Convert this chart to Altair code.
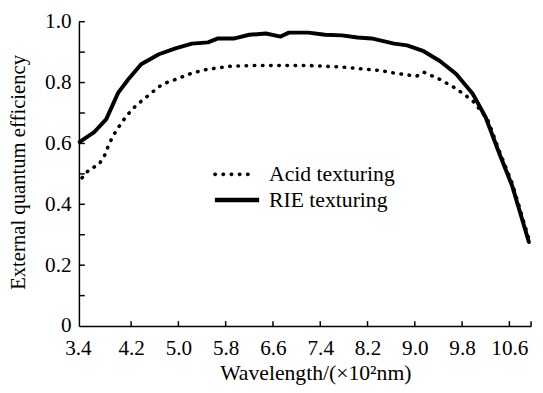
import altair as alt
import pandas as pd

# ---- data ----
wl_rie = [3.33, 3.57, 3.78, 3.98, 4.15, 4.37, 4.67, 4.95, 5.23, 5.5, 5.67, 5.95,
          6.2, 6.48, 6.73, 6.87, 7.2, 7.48, 7.77, 8.03, 8.27, 8.43, 8.65, 8.87,
          9.15, 9.43, 9.7, 9.98, 10.2, 10.43, 10.65, 10.93]
eqe_rie = [0.605, 0.636, 0.68, 0.766, 0.81, 0.86, 0.893, 0.912, 0.928, 0.932, 0.945, 0.945,
           0.957, 0.961, 0.951, 0.964, 0.964, 0.957, 0.955, 0.948, 0.945, 0.938, 0.928, 0.922,
           0.903, 0.87, 0.828, 0.763, 0.685, 0.567, 0.459, 0.276]

wl_acid = [3.37, 3.5, 3.65, 3.75, 3.83, 3.95, 4.12, 4.28, 4.48, 4.73, 4.95, 5.23,
           5.5, 5.9, 6.3, 6.8, 7.2, 7.77, 8.15, 8.4, 8.65, 9.03, 9.15, 9.43,
           9.7, 9.98, 10.23, 10.43, 10.65, 10.94]
eqe_acid = [0.487, 0.516, 0.529, 0.56, 0.6, 0.643, 0.69, 0.724, 0.756, 0.795, 0.81, 0.831,
            0.844, 0.854, 0.856, 0.856, 0.856, 0.851, 0.844, 0.84, 0.831, 0.821, 0.834, 0.81,
            0.78, 0.74, 0.68, 0.575, 0.468, 0.28]

series = ["Acid texturing", "RIE texturing"]
x_labels = [3.4, 4.2, 5.0, 5.8, 6.6, 7.4, 8.2, 9.0, 9.8, 10.6]
x_domain = [3.317, 10.967]
x_tick_marks = [4.2, 5.0, 5.8, 6.6, 7.4, 8.2, 9.0, 9.8, 10.6, 10.967]
y_labels = [0, 0.2, 0.4, 0.6, 0.8, 1.0]
y_tick_marks = [0.1, 0.2, 0.3, 0.4, 0.5, 0.6, 0.7, 0.8, 0.9, 1.0]

W, H = 459, 309
FONT = "Liberation Serif"

rie = pd.DataFrame({"wl": wl_rie, "eqe": eqe_rie})
acid = pd.DataFrame({"wl": wl_acid, "eqe": eqe_acid})

xscale = alt.Scale(domain=x_domain, nice=False, zero=False)
yscale = alt.Scale(domain=[0, 1], nice=False, zero=True)

X_TITLE = "Wavelength/(×10²nm)"
Y_TITLE = "External quantum efficiency"

x_axis = alt.Axis(values=x_labels, format=".1f", ticks=False, tickSize=0, grid=False,
                  labelPadding=12, title=X_TITLE, titleX=240, titleY=47, titleFontSize=22,
                  titleBaseline="middle", titleAlign="center",
                  labelOffset={"condition": {"test": "datum.value < 3.5", "value": -6}, "value": 0})
y_axis = alt.Axis(values=y_labels, ticks=False, tickSize=0, grid=False, labelPadding=8,
                  labelExpr="datum.value == 0 ? '0' : format(datum.value, '.1f')",
                  title=Y_TITLE, titleX=-61, titleY=H / 2 - 2, titleFontSize=21,
                  titleBaseline="middle", titleAlign="center")


def X(field):
    return alt.X(field, type="quantitative", scale=xscale, axis=x_axis, title=X_TITLE)


def Y(field):
    return alt.Y(field, type="quantitative", scale=yscale, axis=y_axis, title=Y_TITLE)


acid_line = alt.Chart(acid).mark_line(
    color="black", strokeWidth=3.6, strokeDash=[0.5, 7.8], strokeCap="round"
).encode(x=X("wl"), y=Y("eqe"))

rie_line = alt.Chart(rie).mark_line(
    color="black", strokeWidth=4, strokeJoin="round", strokeCap="round"
).encode(x=X("wl"), y=Y("eqe"))

xt = alt.Chart(pd.DataFrame({"wl": x_tick_marks})).mark_rule(color="black", strokeWidth=1.5).encode(
    x=X("wl"), y=alt.value(H), y2=alt.value(H - 5)
)
yt = alt.Chart(pd.DataFrame({"eqe": y_tick_marks})).mark_rule(color="black", strokeWidth=1.5).encode(
    y=Y("eqe"), x=alt.value(0), x2=alt.value(6)
)

leg_acid_line = alt.Chart(pd.DataFrame({"s": [series[0]]})).mark_rule(
    color="black", strokeWidth=3.6, strokeDash=[0.5, 7.8], strokeCap="round"
).encode(x=alt.value(138), x2=alt.value(178), y=alt.value(155))
leg_rie_line = alt.Chart(pd.DataFrame({"s": [series[1]]})).mark_rule(
    color="black", strokeWidth=4.5
).encode(x=alt.value(138), x2=alt.value(183), y=alt.value(181))

leg_acid_text = alt.Chart(pd.DataFrame({"s": [series[0]]})).mark_text(
    align="left", baseline="middle", font=FONT, fontSize=22, color="black"
).encode(text="s:N", x=alt.value(193), y=alt.value(155))
leg_rie_text = alt.Chart(pd.DataFrame({"s": [series[1]]})).mark_text(
    align="left", baseline="middle", font=FONT, fontSize=22, color="black"
).encode(text="s:N", x=alt.value(193), y=alt.value(181))

chart = alt.layer(
    acid_line, rie_line, xt, yt, leg_acid_line, leg_rie_line, leg_acid_text, leg_rie_text
).properties(
    width=W, height=H,
    autosize=alt.AutoSizeParams(type="none"),
    padding={"left": 72, "top": 11, "right": 4, "bottom": 60},
    background="white",
).configure_view(stroke=None).configure_axis(
    domainColor="black", domainWidth=1.5,
    labelFont=FONT, labelFontSize=21.5, labelColor="black",
    titleFont=FONT, titleColor="black", titleFontWeight="normal",
)

chart.save("out.html", embed_options={"renderer": "svg", "actions": False})
